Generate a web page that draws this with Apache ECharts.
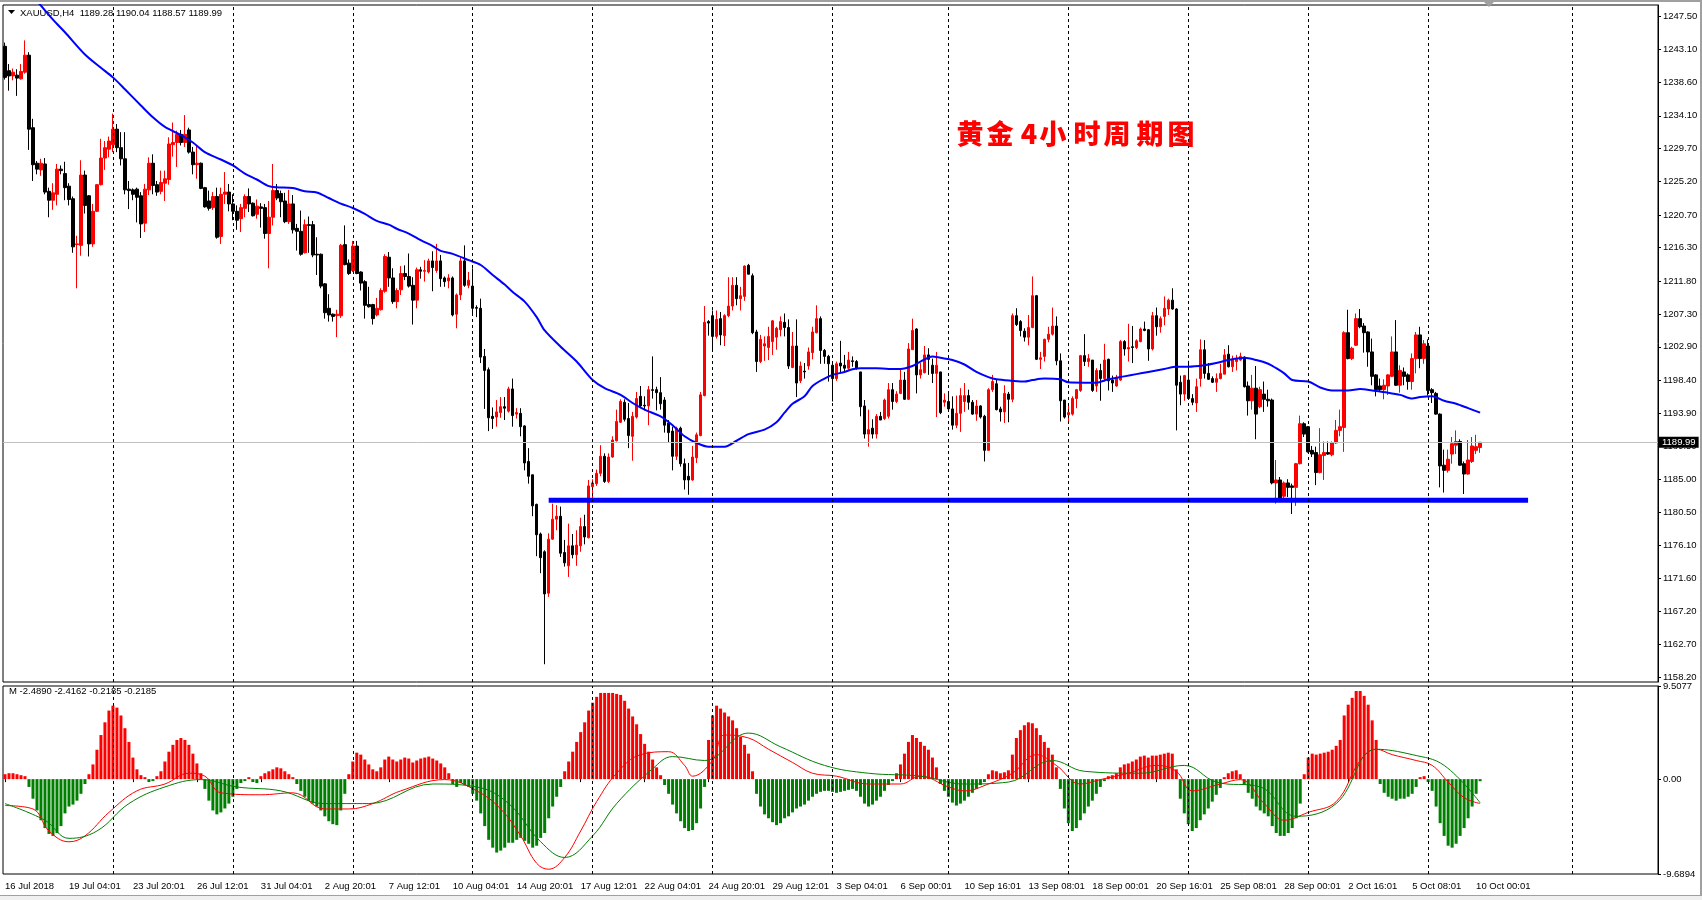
<!DOCTYPE html>
<html><head><meta charset="utf-8">
<script src="https://cdn.jsdelivr.net/npm/echarts@6/dist/echarts.min.js"></script>
<style>html,body{margin:0;padding:0;background:#fff;}#c{width:1702px;height:900px;}</style>
</head><body><div id="c"></div>
<script>
// ---------- DATA ----------
const opens = [
1243.5,1240.2,1239.5,1239.6,1239.1,1240.0,1242.3,1232.5,1227.7,1226.8,
1227.6,1223.9,1222.7,1223.5,1226.9,1226.3,1224.6,1222.9,1216.7,1216.6,
1226.1,1223.3,1216.8,1221.2,1224.8,1228.4,1229.6,1230.2,1232.3,1229.8,
1228.3,1224.2,1224.1,1224.2,1223.3,1219.6,1224.1,1227.7,1224.8,1223.9,
1225.0,1225.5,1230.2,1230.5,1231.6,1230.5,1232.2,1229.2,1227.5,1227.7,
1224.4,1222.6,1221.7,1223.2,1217.8,1223.5,1223.8,1222.2,1221.2,1220.2,
1221.6,1223.2,1222.3,1220.8,1221.8,1221.7,1218.2,1220.4,1224.0,1223.6,
1222.6,1219.8,1222.2,1218.9,1218.5,1215.6,1219.4,1219.4,1215.4,1215.4,
1211.4,1208.1,1207.3,1207.1,1207.1,1216.7,1214.2,1213.2,1216.5,1213.0,
1211.7,1208.6,1208.6,1207.2,1207.9,1210.4,1215.0,1212.2,1209.0,1210.6,
1212.8,1212.4,1211.2,1209.2,1213.3,1213.1,1213.0,1214.5,1213.2,1214.5,
1212.2,1211.8,1212.2,1207.3,1209.9,1214.5,1211.2,1211.1,1208.2,1208.1,
1201.6,1199.8,1193.5,1193.4,1194.0,1194.8,1194.2,1197.2,1193.8,1193.9,
1192.2,1187.4,1185.6,1181.6,1177.6,1175.2,1169.6,1176.9,1179.6,1180.0,
1175.1,1173.3,1176.0,1174.8,1176.0,1178.6,1177.1,1184.0,1184.4,1185.8,
1188.1,1184.7,1188.0,1190.2,1192.7,1195.4,1193.2,1190.8,1193.4,1196.2,
1195.0,1194.9,1197.1,1197.1,1196.7,1195.7,1192.6,1191.5,1188.1,1191.9,
1187.1,1185.4,1184.9,1187.9,1190.9,1196.3,1206.3,1207.1,1204.3,1206.7,
1204.4,1207.1,1208.4,1211.2,1209.4,1209.7,1213.9,1212.5,1204.9,1200.9,
1203.0,1202.8,1203.6,1204.2,1205.2,1206.2,1205.5,1200.1,1203.0,1198.3,
1199.6,1200.3,1202.1,1204.8,1206.7,1202.4,1201.6,1200.4,1198.6,1200.7,
1200.4,1200.0,1201.0,1200.9,1199.5,1194.9,1191.1,1191.9,1191.1,1193.5,
1193.2,1193.5,1197.1,1195.5,1196.6,1198.4,1195.8,1202.5,1205.3,1199.1,
1199.4,1201.8,1200.4,1199.3,1199.5,1195.4,1195.5,1194.5,1192.3,1193.9,
1195.5,1196.3,1195.4,1193.8,1194.9,1193.5,1188.9,1197.1,1197.9,1194.5,
1194.1,1196.5,1195.8,1207.1,1206.3,1205.0,1204.2,1205.5,1209.8,1201.2,
1201.6,1203.9,1204.6,1205.7,1201.0,1195.7,1193.7,1193.8,1195.9,1197.0,
1201.7,1200.9,1201.1,1197.6,1199.7,1198.6,1201.2,1198.4,1197.6,1198.4,
1203.6,1202.6,1202.9,1202.8,1203.6,1205.3,1205.2,1202.6,1207.1,1205.6,
1207.0,1208.0,1209.2,1208.0,1198.1,1196.5,1198.4,1195.9,1195.3,1198.6,
1202.5,1199.3,1198.6,1198.1,1198.6,1199.2,1201.9,1200.2,1200.9,1201.1,
1201.5,1197.6,1195.6,1197.3,1194.8,1196.5,1195.8,1195.7,1184.5,1184.9,
1182.7,1184.5,1184.1,1183.9,1187.1,1192.5,1192.1,1188.9,1188.6,1185.9,
1188.2,1188.6,1188.3,1189.9,1191.6,1192.0,1204.8,1201.3,1203.1,1206.7,
1205.7,1204.9,1202.2,1199.1,1197.6,1197.1,1197.6,1198.9,1202.2,1197.7,
1199.5,1199.1,1198.2,1201.3,1204.5,1201.3,1203.0,1197.1,1196.6,1193.8,
1186.9,1186.2,1188.4,1189.6,1190.1,1187.1,1185.7,1187.4,1188.9,1189.28];
const highs = [
1244.0,1241.1,1240.5,1240.4,1241.1,1244.3,1242.7,1233.7,1228.0,1228.3,
1228.4,1224.4,1225.0,1227.6,1227.4,1227.9,1225.0,1223.2,1217.9,1228.1,
1226.7,1223.4,1222.2,1224.9,1231.0,1230.7,1231.3,1234.4,1233.0,1231.9,
1231.9,1225.3,1224.3,1224.4,1223.8,1224.9,1228.5,1228.9,1225.3,1226.7,
1226.7,1231.2,1233.2,1232.1,1232.2,1234.2,1232.5,1229.9,1230.1,1227.8,
1224.5,1224.0,1223.8,1224.4,1224.4,1226.5,1224.9,1223.5,1222.0,1222.2,
1223.5,1224.3,1222.4,1222.8,1222.3,1222.2,1222.6,1227.6,1224.9,1224.0,
1223.7,1224.1,1223.4,1219.5,1221.3,1220.1,1220.5,1219.9,1217.7,1215.5,
1211.5,1210.0,1207.4,1207.9,1216.8,1219.3,1214.7,1217.2,1217.2,1213.1,
1211.9,1211.0,1208.7,1209.5,1210.8,1215.4,1215.7,1213.5,1210.8,1213.8,
1213.9,1215.5,1212.3,1213.6,1213.7,1214.6,1214.8,1215.8,1216.8,1215.3,
1212.4,1212.7,1212.4,1210.1,1215.1,1216.6,1213.0,1213.5,1208.5,1209.4,
1202.6,1200.1,1194.7,1195.7,1196.1,1196.1,1197.5,1198.6,1194.6,1194.6,
1192.3,1189.2,1185.6,1181.7,1177.8,1175.4,1177.7,1181.7,1181.5,1181.3,
1176.8,1179.0,1177.6,1178.1,1179.8,1180.2,1184.9,1185.0,1186.3,1189.6,
1188.5,1188.5,1190.8,1194.4,1195.8,1195.8,1195.3,1194.1,1196.8,1197.6,
1196.2,1197.6,1201.6,1197.5,1198.8,1196.1,1193.0,1192.1,1192.1,1192.1,
1187.8,1187.2,1189.5,1191.3,1196.8,1208.4,1206.5,1207.8,1207.8,1207.6,
1207.3,1212.3,1212.3,1212.3,1211.0,1213.9,1214.1,1212.8,1205.2,1204.5,
1204.3,1205.6,1206.5,1205.6,1207.0,1207.4,1206.6,1204.9,1206.6,1200.9,
1200.7,1202.8,1205.6,1208.5,1207.0,1202.6,1201.8,1200.6,1200.9,1203.7,
1201.8,1202.2,1201.6,1201.1,1199.5,1195.7,1194.4,1193.1,1193.8,1194.1,
1195.9,1198.0,1198.0,1196.9,1199.8,1199.5,1203.4,1206.7,1205.4,1200.7,
1203.0,1202.7,1201.3,1202.2,1199.5,1196.6,1196.6,1196.2,1196.3,1197.3,
1198.0,1197.1,1195.7,1195.7,1195.0,1193.7,1197.3,1199.1,1198.4,1194.8,
1197.7,1196.8,1207.4,1208.1,1206.5,1205.4,1207.2,1212.4,1209.9,1202.2,
1204.0,1205.6,1208.2,1207.0,1202.0,1195.7,1195.0,1196.2,1197.2,1201.8,
1204.6,1201.9,1201.1,1200.0,1200.6,1203.3,1201.3,1199.0,1199.1,1203.8,
1203.8,1206.0,1205.7,1203.9,1205.5,1206.3,1205.3,1207.6,1208.2,1207.0,
1209.7,1209.4,1210.8,1208.1,1199.0,1199.1,1201.0,1196.5,1198.6,1203.9,
1203.8,1200.7,1198.9,1199.3,1200.6,1202.6,1203.1,1201.7,1201.8,1202.1,
1201.6,1198.2,1199.1,1200.3,1197.5,1198.2,1197.1,1195.9,1187.6,1185.3,
1184.7,1185.0,1184.4,1187.2,1193.6,1192.7,1192.2,1189.5,1189.4,1191.9,
1190.1,1190.1,1190.1,1193.0,1194.4,1205.0,1207.9,1202.9,1207.4,1208.0,
1206.1,1205.0,1204.0,1199.2,1198.6,1198.5,1199.2,1204.3,1206.5,1200.4,
1200.1,1199.3,1202.0,1204.9,1205.6,1203.8,1203.9,1197.3,1196.8,1193.9,
1189.0,1189.0,1190.7,1191.6,1190.4,1187.4,1190.3,1190.7,1191.0,1190.04];
const lows = [
1239.0,1237.5,1238.9,1236.8,1239.0,1239.8,1229.5,1225.3,1226.2,1226.0,
1223.5,1220.4,1221.4,1222.0,1226.2,1222.7,1222.0,1215.6,1210.8,1215.2,
1220.9,1215.1,1216.4,1221.1,1224.7,1226.8,1228.5,1229.2,1229.2,1227.4,
1223.5,1221.5,1222.7,1219.7,1217.6,1218.4,1223.4,1223.5,1223.3,1223.5,
1222.6,1224.8,1228.6,1227.2,1230.1,1229.9,1229.0,1226.2,1225.6,1224.2,
1221.7,1221.3,1221.4,1217.5,1216.8,1222.2,1221.2,1220.0,1218.7,1218.4,
1220.4,1221.1,1220.5,1220.2,1219.0,1217.5,1213.5,1219.3,1222.7,1220.4,
1219.6,1219.5,1218.2,1215.9,1215.2,1215.5,1215.6,1215.0,1212.6,1210.8,
1206.7,1206.3,1206.3,1204.2,1206.8,1213.9,1212.6,1213.0,1212.7,1210.5,
1206.7,1208.2,1205.9,1207.0,1207.8,1210.2,1211.0,1208.7,1208.1,1209.9,
1211.9,1210.9,1205.9,1208.1,1212.1,1211.7,1212.8,1210.4,1212.9,1211.0,
1211.0,1210.8,1207.0,1205.4,1209.2,1211.0,1210.8,1207.3,1206.9,1200.7,
1194.5,1191.5,1191.8,1192.1,1193.3,1193.0,1194.0,1192.1,1193.2,1190.8,
1186.2,1184.4,1180.0,1174.6,1172.3,1160.0,1169.1,1176.8,1178.1,1174.5,
1173.2,1171.8,1174.3,1173.3,1175.2,1176.2,1177.0,1182.4,1184.1,1185.4,
1184.5,1184.5,1187.9,1190.1,1192.6,1192.8,1189.2,1187.5,1193.2,1194.6,
1194.3,1192.3,1195.9,1194.3,1194.4,1191.3,1189.9,1186.2,1187.6,1186.7,
1183.6,1182.9,1184.8,1187.2,1190.8,1196.2,1204.4,1202.2,1204.0,1203.1,
1203.0,1206.9,1207.8,1208.5,1207.8,1209.1,1212.7,1204.6,1199.5,1200.7,
1201.0,1201.1,1201.8,1202.5,1204.3,1204.3,1199.9,1200.0,1196.1,1198.0,
1198.6,1199.8,1201.2,1204.7,1200.6,1200.6,1198.2,1195.5,1198.3,1199.3,
1199.5,1199.8,1200.2,1199.8,1193.5,1190.5,1189.4,1190.5,1190.5,1193.0,
1193.0,1193.2,1194.4,1195.3,1196.5,1195.7,1195.7,1202.5,1196.6,1198.6,
1199.3,1199.1,1198.0,1193.4,1193.8,1194.8,1194.4,1191.7,1191.9,1191.4,
1194.1,1194.4,1193.7,1192.9,1193.2,1187.4,1188.9,1196.8,1194.3,1192.8,
1192.6,1192.7,1195.4,1205.7,1204.3,1203.6,1203.1,1205.4,1201.1,1199.9,
1200.9,1203.5,1204.4,1200.4,1192.8,1193.2,1192.8,1193.6,1194.6,1196.8,
1200.3,1200.2,1196.8,1196.8,1195.6,1198.2,1197.0,1196.8,1197.5,1198.3,
1201.7,1200.9,1200.7,1202.6,1203.5,1205.0,1201.0,1202.4,1204.4,1204.8,
1205.8,1207.2,1207.9,1191.6,1195.0,1195.6,1195.8,1195.0,1194.1,1197.5,
1198.6,1198.4,1198.0,1196.8,1198.5,1199.2,1200.1,1199.5,1199.7,1201.0,
1197.4,1193.6,1194.4,1190.4,1194.6,1194.1,1194.8,1184.3,1181.7,1182.1,
1182.3,1182.6,1180.3,1181.4,1187.0,1190.7,1188.6,1188.0,1184.2,1185.8,
1184.9,1188.3,1188.1,1189.8,1190.8,1188.7,1201.2,1201.1,1203.0,1205.4,
1202.1,1200.2,1197.7,1196.2,1196.8,1195.8,1196.4,1198.8,1197.6,1196.7,
1197.7,1197.1,1197.1,1199.3,1200.0,1200.6,1196.3,1195.3,1193.7,1183.9,
1183.2,1185.9,1187.1,1188.4,1186.8,1183.0,1185.6,1187.2,1188.4,1188.57];
const closes = [
1239.3,1239.5,1240.0,1239.2,1240.1,1242.3,1232.3,1227.5,1226.9,1227.7,
1223.8,1222.7,1223.7,1226.9,1226.7,1224.4,1222.8,1216.4,1216.8,1226.1,
1222.0,1216.8,1221.2,1224.8,1228.4,1229.8,1230.7,1232.3,1229.8,1228.3,
1224.1,1224.0,1223.5,1223.1,1219.5,1224.2,1227.7,1224.7,1223.8,1225.1,
1225.6,1230.3,1230.5,1231.6,1230.5,1231.6,1229.2,1227.5,1227.7,1224.3,
1221.8,1221.6,1223.2,1217.7,1223.5,1223.8,1222.2,1221.2,1220.0,1221.7,
1223.2,1222.2,1220.6,1221.9,1221.6,1218.2,1220.4,1224.0,1223.0,1222.5,
1219.8,1222.2,1218.7,1218.5,1215.4,1219.4,1219.3,1215.3,1215.3,1211.1,
1207.5,1207.2,1207.0,1207.3,1216.6,1214.0,1212.8,1216.5,1212.8,1211.5,
1208.5,1208.3,1206.7,1208.1,1210.5,1215.1,1212.2,1209.0,1210.5,1212.8,
1212.4,1211.1,1209.2,1213.3,1213.1,1213.2,1214.5,1213.6,1214.5,1212.1,
1211.7,1212.2,1207.2,1209.9,1214.5,1211.2,1211.9,1208.1,1208.1,1201.5,
1199.7,1193.3,1193.2,1194.1,1194.8,1194.6,1197.2,1193.6,1194.0,1192.1,
1187.2,1185.4,1181.4,1177.5,1174.4,1169.5,1176.9,1179.6,1180.0,1175.0,
1173.7,1176.0,1174.8,1176.1,1178.6,1177.2,1184.1,1184.5,1185.8,1188.1,
1184.7,1188.0,1190.3,1192.8,1195.5,1193.1,1190.9,1193.5,1195.9,1194.9,
1194.9,1197.1,1197.0,1196.7,1195.2,1192.3,1191.3,1188.1,1191.9,1187.1,
1184.9,1184.9,1188.0,1191.0,1196.4,1206.2,1206.1,1204.3,1206.6,1204.5,
1207.1,1208.4,1211.2,1209.4,1209.8,1213.8,1212.7,1204.8,1200.9,1203.9,
1203.3,1204.3,1206.4,1205.4,1206.3,1205.5,1200.3,1203.0,1198.0,1200.3,
1199.5,1202.2,1204.9,1206.7,1202.4,1201.6,1200.6,1198.6,1200.6,1200.3,
1200.0,1201.1,1200.9,1200.0,1194.8,1191.1,1191.7,1191.1,1193.5,1193.0,
1195.7,1197.1,1195.5,1196.5,1198.4,1195.8,1202.6,1205.1,1199.1,1199.8,
1201.8,1201.2,1199.3,1200.4,1194.0,1195.7,1194.5,1192.3,1193.9,1196.3,
1196.3,1195.4,1193.8,1194.9,1193.4,1188.9,1197.1,1198.2,1194.4,1194.1,
1196.6,1195.8,1207.1,1205.9,1205.1,1204.2,1205.5,1209.8,1201.2,1201.4,
1203.9,1204.6,1205.7,1201.0,1195.6,1193.4,1194.0,1195.9,1197.1,1201.7,
1200.9,1201.3,1197.0,1199.7,1198.6,1201.1,1198.3,1198.0,1198.8,1203.6,
1202.6,1202.8,1202.8,1203.7,1205.3,1205.1,1202.6,1207.1,1205.6,1206.7,
1208.1,1209.2,1208.0,1197.7,1196.5,1199.0,1195.9,1195.4,1197.5,1202.5,
1199.3,1198.5,1198.1,1198.6,1199.3,1201.8,1200.2,1201.1,1201.3,1201.6,
1197.5,1195.6,1197.3,1193.8,1197.1,1195.8,1195.6,1184.5,1184.9,1182.2,
1184.5,1183.9,1183.9,1187.1,1192.5,1191.1,1188.7,1188.4,1185.9,1188.3,
1188.6,1188.4,1189.9,1191.6,1192.1,1204.8,1201.3,1202.7,1206.7,1205.6,
1204.8,1202.2,1198.9,1197.1,1197.1,1197.7,1199.1,1202.2,1197.7,1199.7,
1198.9,1198.2,1201.3,1204.5,1201.3,1203.3,1197.0,1196.7,1193.8,1186.8,
1186.2,1187.7,1189.8,1190.1,1186.9,1185.7,1187.6,1189.5,1189.4,1189.99];

// moving average read at sampled bars: [bar index, price]
const maPoints = [[0,1254.0],[4,1251.8],[8,1249.6],[12,1247.1],[15,1245.4],[20,1242.4],[24,1240.6],[27,1239.3],[30,1237.7],[34,1235.5],[37,1233.9],[40,1232.6],[44,1231.5],[47,1230.5],[50,1229.2],[54,1228.2],[57,1227.4],[60,1226.3],[63,1225.5],[66,1224.6],[68,1224.45],[72,1224.35],[75,1223.9],[78,1223.75],[81,1223.0],[84,1222.25],[87,1221.65],[90,1220.85],[93,1219.9],[96,1219.4],[98,1218.85],[101,1218.2],[104,1217.3],[107,1216.5],[109,1215.85],[112,1215.45],[116,1214.6],[119,1213.95],[122,1212.6],[125,1211.3],[127,1210.3],[130,1209.0],[133,1206.9],[135,1205.1],[139,1202.9],[143,1200.9],[147,1198.4],[150,1197.3],[154,1196.4],[157,1195.3],[160,1194.4],[164,1193.5],[167,1192.3],[170,1190.8],[173,1189.9],[176,1189.4],[180,1189.4],[183,1190.2],[186,1191.1],[190,1191.7],[193,1192.7],[195,1194.0],[197,1195.2],[200,1196.2],[202,1197.6],[205,1198.6],[207,1199.1],[210,1199.5],[212,1199.85],[214,1200.0],[218,1200.0],[221,1199.9],[224,1199.9],[227,1200.3],[229,1200.9],[232,1201.6],[234,1201.4],[237,1201.1],[240,1200.5],[243,1199.5],[246,1198.8],[248,1198.5],[252,1198.3],[255,1198.2],[257,1198.4],[260,1198.6],[264,1198.5],[266,1198.1],[270,1198.05],[273,1198.05],[276,1198.5],[280,1198.9],[283,1199.2],[286,1199.5],[290,1199.9],[293,1200.2],[296,1200.2],[300,1200.4],[303,1200.7],[306,1201.1],[310,1201.4],[313,1201.1],[316,1200.6],[318,1200.0],[320,1199.3],[322,1198.4],[326,1198.2],[329,1197.4],[332,1197.0],[336,1197.0],[339,1197.2],[342,1197.0],[346,1196.7],[349,1196.4],[352,1195.9],[354,1196.1],[357,1196.2],[360,1195.6],[363,1195.2],[366,1194.6],[369,1194.0]];

const macdHist = [
0.5,0.6,0.6,0.5,0.4,0.3,-0.8,-2.0,-3.2,-4.2,
-5.0,-5.6,-5.8,-5.5,-4.8,-3.5,-2.8,-2.6,-2.2,-1.5,
-0.5,0.5,1.5,3.0,4.5,5.8,7.0,7.5,7.3,6.5,
5.2,3.8,2.2,1.0,0.4,0.2,-0.3,-0.2,0.3,0.8,
1.8,2.8,3.5,4.0,4.2,4.0,3.5,2.6,1.6,0.6,
-1.0,-2.2,-3.2,-3.6,-3.4,-3.0,-2.5,-1.8,-1.0,-0.4,
-0.2,0.2,-0.3,-0.4,0.3,0.6,0.8,1.0,1.2,1.1,
0.8,0.5,0.2,-0.5,-1.2,-1.8,-2.2,-2.5,-2.8,-3.2,
-3.8,-4.3,-4.6,-4.7,-3.2,-1.5,0.5,1.8,2.7,2.5,
2.0,1.5,1.0,0.8,1.2,2.0,2.3,2.0,1.8,2.0,
2.2,2.1,1.7,1.9,2.1,2.2,2.3,2.1,1.9,1.6,
1.2,0.6,-0.5,-0.8,-0.4,-0.6,-0.8,-1.5,-2.2,-3.5,
-4.8,-6.2,-7.0,-7.5,-7.3,-7.0,-6.5,-6.5,-6.2,-6.0,
-6.3,-6.6,-7.0,-6.8,-6.0,-5.5,-4.0,-2.8,-1.8,-0.8,
0.8,1.8,2.8,3.8,4.8,5.8,7.0,7.8,8.4,8.8,
8.8,8.8,8.8,8.7,8.6,8.0,7.2,6.4,5.6,4.6,
3.6,2.8,2.0,1.2,0.4,-0.6,-1.5,-2.6,-3.5,-4.3,
-5.0,-5.3,-5.2,-4.5,-3.0,-0.8,4.0,6.5,7.5,7.2,
6.8,6.4,6.0,5.2,4.3,3.5,2.6,0.8,-1.5,-2.8,
-3.6,-4.0,-4.4,-4.7,-4.5,-4.0,-3.8,-3.4,-3.0,-2.8,
-2.6,-2.2,-1.8,-1.5,-1.3,-1.2,-1.2,-1.3,-1.4,-1.3,
-1.2,-1.1,-1.0,-1.2,-1.8,-2.5,-2.8,-2.6,-2.2,-1.8,
-1.2,-0.6,-0.2,0.6,1.5,2.6,3.8,4.5,4.2,3.8,
3.4,3.0,2.2,1.2,-0.5,-1.2,-1.8,-2.4,-2.7,-2.5,
-2.2,-1.8,-1.4,-1.0,-0.6,-0.3,0.5,0.9,0.8,0.6,
0.7,0.9,2.5,4.2,5.0,5.5,5.8,5.7,5.2,4.5,
3.8,3.2,2.5,1.2,-1.0,-3.0,-4.5,-5.3,-5.0,-4.2,
-3.5,-2.8,-2.2,-1.5,-0.8,-0.2,0.3,0.4,0.6,1.2,
1.5,1.6,1.8,2.0,2.3,2.4,2.2,2.4,2.4,2.5,
2.6,2.7,2.6,1.0,-2.0,-3.5,-4.6,-5.3,-5.0,-4.2,
-3.6,-3.0,-2.3,-1.6,-0.9,0.2,0.6,0.8,0.9,0.5,
-0.6,-1.4,-2.0,-2.8,-3.2,-3.5,-3.8,-4.8,-5.5,-5.8,
-5.8,-5.5,-5.0,-4.0,-2.5,0.5,2.2,2.6,2.5,2.6,
2.7,2.8,3.0,3.4,4.0,6.5,7.6,8.3,9.0,9.0,
8.5,7.6,6.0,4.0,-0.5,-1.4,-1.8,-2.0,-2.2,-2.0,
-2.0,-1.8,-1.5,-0.8,0.2,0.3,-0.3,-1.2,-2.8,-4.5,
-5.8,-6.8,-7.0,-6.6,-5.8,-5.0,-4.0,-2.8,-1.5,-0.2185];

const macdRed = [[0,-2.7],[7,-3.05],[11,-5.3],[16,-6.4],[20,-5.8],[26,-3.4],[33,-1.2],[40,-0.5],[46,0.6],[50,0.3],[54,-1.4],[64,-1.6],[72,-1.4],[80,-3.05],[86,-3.05],[92,-2.5],[99,-1.2],[110,-0.05],[118,-1.2],[124,-3.05],[129,-5.8],[133,-8.6],[136,-9.2],[140,-8.0],[144,-5.3],[148,-2.3],[153,0.6],[159,2.5],[166,2.8],[170,1.4],[172,0.3],[177,1.9],[180,4.5],[186,4.2],[191,3.05],[197,1.7],[202,0.6],[208,0.3],[216,-0.5],[224,-0.5],[229,0.3],[236,-0.8],[240,-1.2],[246,-0.5],[252,0.6],[258,2.5],[263,1.4],[269,-0.5],[274,-0.05],[281,0.6],[288,1.4],[293,0.8],[297,-1.2],[304,-0.5],[309,-0.05],[315,-2.5],[320,-4.2],[326,-3.4],[333,-2.3],[339,1.9],[343,3.05],[347,2.5],[353,1.9],[357,1.4],[361,-0.3],[365,-1.9],[369,-2.489]];
const macdGreen = [[0,-2.5],[10,-4.2],[16,-6.05],[23,-5.3],[31,-2.5],[40,-0.8],[49,-0.05],[58,-0.8],[69,-1.2],[80,-2.5],[91,-2.5],[107,-0.5],[118,-0.8],[126,-2.5],[134,-6.4],[140,-8.0],[147,-5.8],[153,-2.5],[162,1.05],[167,2.3],[175,1.9],[186,4.7],[194,3.3],[205,1.4],[216,0.6],[229,0.3],[240,-0.5],[251,-0.3],[262,1.9],[270,0.8],[284,0.6],[295,1.4],[303,-0.3],[314,-0.8],[323,-3.8],[333,-2.5],[343,3.05],[352,2.5],[360,1.4],[369,-2.4162]];

const priceTicks = [1247.50,1243.10,1238.60,1234.10,1229.70,1225.20,1220.70,1216.30,1211.80,1207.30,1202.90,1198.40,1193.90,1189.50,1185.00,1180.50,1176.10,1171.60,1167.20,1162.70,1158.20];
const macdTicks = [9.5077, 0, -9.6894];
const timeLabels = ['16 Jul 2018','19 Jul 04:01','23 Jul 20:01','26 Jul 12:01','31 Jul 04:01','2 Aug 20:01','7 Aug 12:01','10 Aug 04:01','14 Aug 20:01','17 Aug 12:01','22 Aug 04:01','24 Aug 20:01','29 Aug 12:01','3 Sep 04:01','6 Sep 00:01','10 Sep 16:01','13 Sep 08:01','18 Sep 00:01','20 Sep 16:01','25 Sep 08:01','28 Sep 00:01','2 Oct 16:01','5 Oct 08:01','10 Oct 00:01'];
const gridBars = [27,57,87,117,147,177,207,236,266,296,326,356,392];
const supportLine = [[136,1182.15],[381,1182.15]];
const lastPrice = 1189.99;
const headerText = 'XAUUSD,H4  1189.28 1190.04 1188.57 1189.99';
const macdHeader = 'M -2.4890 -2.4162 -0.2185 -0.2185';
const titleChars = ['黄','金','4','小','时','周','期','图'];

// ---------- CHART ----------
const N = 414;
const cats = Array.from({length:N}, (_, i) => String(i));
const candles = opens.map((o,i)=>[o, closes[i], lows[i], highs[i]]);
const FONT = "'Liberation Sans', Arial, sans-serif";
const FS = 9.5;
const vLines = gridBars.map(i => ({xAxis: i}));
const labelOn = (idx) => idx % 16 === 0 && idx <= 368;
const dashStyle = {color:'#000', type:[3,3], width:1};

const titleX = [970,1000,1029,1053,1087,1117,1150,1181];
const graphics = [
  {type:'rect', shape:{x:0,y:0,width:1702,height:2}, style:{fill:'#a0a0a0'}, silent:true},
  {type:'rect', shape:{x:1700,y:0,width:2,height:900}, style:{fill:'#a0a0a0'}, silent:true},
  {type:'rect', shape:{x:0,y:895,width:1702,height:5}, style:{fill:'#f0f0f0'}, silent:true},
  {type:'rect', shape:{x:0,y:895,width:1702,height:1}, style:{fill:'#a0a0a0'}, silent:true},
  {type:'polygon', shape:{points:[[8,10],[15,10],[11.5,14]]}, style:{fill:'#000'}, silent:true},
  {type:'text', x:20, y:13, style:{text:headerText, font:FS+"px "+FONT, fill:'#000', verticalAlign:'middle'}, silent:true},
  {type:'text', x:9, y:691, style:{text:macdHeader, font:FS+"px "+FONT, fill:'#000', verticalAlign:'middle'}, silent:true},
  {type:'polygon', shape:{points:[[1484,2],[1494,2],[1489,7]]}, style:{fill:'#a0a0a0'}, silent:true}
];
titleChars.forEach((ch, k) => graphics.push({type:'text', x:titleX[k], y:134, z:100,
  style:{text:ch, font:"900 27px 'Noto Sans CJK SC'", fill:'#ff0000', align:'center', verticalAlign:'middle'}, silent:true}));

const option = {
  animation:false,
  backgroundColor:'#fff',
  grid:[
    {left:3, top:5, width:1655, height:677, show:true, borderColor:'#000', borderWidth:1, backgroundColor:'#fff'},
    {left:3, top:686, width:1655, height:188, show:true, borderColor:'#000', borderWidth:1, backgroundColor:'#fff'}
  ],
  xAxis:[
    {type:'category', gridIndex:0, data:cats, boundaryGap:true, axisLine:{show:false}, axisTick:{show:false}, axisLabel:{show:false}, splitLine:{show:false}},
    {type:'category', gridIndex:1, data:cats, boundaryGap:true, axisLine:{show:false},
      axisTick:{show:true, interval:labelOn, alignWithLabel:true, length:3, lineStyle:{color:'#000'}},
      axisLabel:{show:true, interval:labelOn, formatter:(v,idx)=>timeLabels[idx/16] || '', align:'left', margin:7, fontFamily:FONT, fontSize:FS, color:'#000'},
      splitLine:{show:false}}
  ],
  yAxis:[
    {type:'value', gridIndex:0, position:'right', min:1157.6, max:1249.08,
      axisLine:{show:true, lineStyle:{color:'#000'}},
      axisTick:{show:true, length:3, customValues:priceTicks, lineStyle:{color:'#000'}},
      axisLabel:{customValues:priceTicks, formatter:v=>v.toFixed(2), margin:5, fontFamily:FONT, fontSize:FS, color:'#000'},
      splitLine:{show:false}},
    {type:'value', gridIndex:1, position:'right', min:-9.6894, max:9.5077,
      axisLine:{show:true, lineStyle:{color:'#000'}},
      axisTick:{show:true, length:3, customValues:macdTicks, lineStyle:{color:'#000'}},
      axisLabel:{customValues:macdTicks, formatter:v=> v===0 ? '0.00' : v.toFixed(4), margin:5, fontFamily:FONT, fontSize:FS, color:'#000'},
      splitLine:{show:false}}
  ],
  series:[
    {type:'line', xAxisIndex:0, yAxisIndex:0, data:[], z:1, silent:true,
      markLine:{silent:true, symbol:['none','none'], label:{show:false}, lineStyle:dashStyle, data:vLines, animation:false}},
    {type:'line', xAxisIndex:0, yAxisIndex:0, data:[], z:1, silent:true,
      markLine:{silent:true, symbol:['none','none'], lineStyle:{color:'#c0c0c0', type:'solid', width:1}, animation:false,
        label:{show:true, position:'end', formatter:lastPrice.toFixed(2), backgroundColor:'#000', color:'#fff', padding:[1,3,0,3], distance:1, fontFamily:FONT, fontSize:FS},
        data:[{yAxis:lastPrice}]}},
    {type:'candlestick', xAxisIndex:0, yAxisIndex:0, data:candles, barWidth:3, z:3, silent:true,
      itemStyle:{color:'#ff0000', color0:'#000000', borderColor:'#ff0000', borderColor0:'#000000', borderWidth:1}},
    {type:'line', xAxisIndex:0, yAxisIndex:0, data:maPoints, symbol:'none', z:4, silent:true, smooth:0.3, lineStyle:{color:'#0000ff', width:2}},
    {type:'line', xAxisIndex:0, yAxisIndex:0, data:supportLine, symbol:'none', z:4, silent:true, lineStyle:{color:'#0000ff', width:5}},
    {type:'bar', xAxisIndex:1, yAxisIndex:1, barWidth:3, z:3, silent:true,
      data:macdHist.map(v=>({value:v, itemStyle:{color: v>=0 ? '#ff0000' : '#008000'}}))},
    {type:'line', xAxisIndex:1, yAxisIndex:1, data:macdRed, symbol:'none', z:4, silent:true, smooth:0.4, lineStyle:{color:'#ff0000', width:1}},
    {type:'line', xAxisIndex:1, yAxisIndex:1, data:macdGreen, symbol:'none', z:4, silent:true, smooth:0.4, lineStyle:{color:'#008000', width:1}},
    {type:'line', xAxisIndex:1, yAxisIndex:1, data:[], z:1, silent:true,
      markLine:{silent:true, symbol:['none','none'], label:{show:false}, lineStyle:dashStyle, data:vLines, animation:false}}
  ],
  graphic:graphics
};
const chart = echarts.init(document.getElementById('c'));
chart.setOption(option);
</script>
</body></html>
